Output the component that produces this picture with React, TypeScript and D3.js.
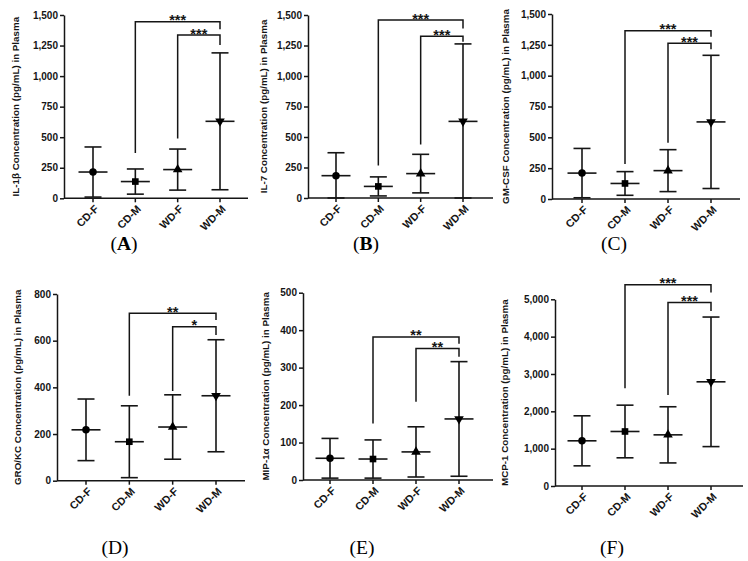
import React, { useEffect, useRef } from "react";
import * as d3 from "d3";

const groups = ["CD-F", "CD-M", "WD-F", "WD-M"];
const panelLetters = ["A", "B", "C", "D", "E", "F"];
const yTitles = [
  "IL-1β Concentration (pg/mL) in Plasma",
  "IL-7 Concentration (pg/mL) in Plasma",
  "GM-CSF Concentration (pg/mL) in Plasma",
  "GRO/KC Concentration (pg/mL) in Plasma",
  "MIP-1α Concentration (pg/mL) in Plasma",
  "MCP-1 Concentration (pg/mL) in Plasma",
];
const yMax = [1500, 1500, 1500, 800, 500, 5000];
const yStep = [250, 250, 250, 200, 100, 1000];

const il1bMean = [215, 137, 235, 630];
const il1bErr = [205, 103, 168, 560];
const il7Mean = [183, 95, 200, 628];
const il7Err = [188, 78, 158, 635];
const gmcsfMean = [210, 126, 230, 625];
const gmcsfErr = [200, 96, 170, 540];
const grokcMean = [218, 167, 230, 364];
const grokcErr = [132, 154, 138, 240];
const mip1aMean = [58, 56, 75, 163];
const mip1aErr = [53, 51, 67, 153];
const mcp1Mean = [1210, 1460, 1370, 2790];
const mcp1Err = [670, 705, 752, 1735];

const means = [il1bMean, il7Mean, gmcsfMean, grokcMean, mip1aMean, mcp1Mean];
const errs = [il1bErr, il7Err, gmcsfErr, grokcErr, mip1aErr, mcp1Err];

// significance brackets: outer CD-M vs WD-M, inner WD-F vs WD-M
const outerStars = ["***", "***", "***", "**", "**", "***"];
const innerStars = ["***", "***", "***", "*", "**", "***"];
const outerY = [1445, 1458, 1365, 717, 382, 5390];
const outerLeftEnd = [370, 267, 284, 364, 151, 2620];
const outerRightEnd = [1383, 1389, 1316, 689, 364, 5180];
const innerY = [1336, 1326, 1262, 660, 351, 4912];
const innerLeftEnd = [490, 439, 457, 384, 209, 2440];
const innerRightEnd = [1254, 1280, 1214, 624, 329, 4690];

const layouts = [
  { ax: 64, axEnd: 248, c0: 93, c3: 220, yTop: 15, y0: 198.3, tx: 15, lx: 124, ly: 243, bold: true },
  { ax: 308, axEnd: 493, c0: 336, c3: 463, yTop: 15, y0: 198, tx: 263, lx: 366, ly: 243, bold: true },
  { ax: 552, axEnd: 740, c0: 582, c3: 711, yTop: 14, y0: 199, tx: 505, lx: 614, ly: 243, bold: false },
  { ax: 57, axEnd: 245, c0: 86, c3: 216, yTop: 294, y0: 480.7, tx: 17, lx: 115, ly: 547, bold: false },
  { ax: 303, axEnd: 493, c0: 330, c3: 459, yTop: 292.7, y0: 480, tx: 265, lx: 362, ly: 547, bold: false },
  { ax: 555, axEnd: 743, c0: 582, c3: 711, yTop: 299.3, y0: 486, tx: 504, lx: 612, ly: 547, bold: false },
];

const FONT = "'Liberation Sans', Arial, sans-serif";
const INK = "#151515";

export default function App() {
  const ref = useRef<SVGSVGElement>(null);
  useEffect(() => {
    const svg = d3.select(ref.current);
    svg.selectAll("*").remove();
    svg.append("rect").attr("width", 748).attr("height", 561).attr("fill", "#fff");

    layouts.forEach((L, i) => {
      const g = svg.append("g");
      const y = d3.scaleLinear().domain([0, yMax[i]]).range([L.y0, L.yTop]);
      const x = d3.scalePoint<string>().domain(groups).range([L.c0, L.c3]);

      // y axis
      const ya = g
        .append("g")
        .attr("transform", `translate(${L.ax},0)`)
        .call(
          d3
            .axisLeft(y)
            .tickValues(d3.range(0, yMax[i] + 1, yStep[i]))
            .tickSize(4)
            .tickSizeOuter(0)
            .tickPadding(2)
            .tickFormat(d3.format(",") as any)
        );
      ya.selectAll("path,line").attr("stroke", INK).attr("stroke-width", 1.5);
      ya.selectAll("text")
        .attr("font-family", FONT)
        .attr("font-weight", "bold")
        .attr("font-size", 10)
        .attr("fill", INK);

      // x axis
      g.append("line")
        .attr("x1", L.ax)
        .attr("x2", L.axEnd)
        .attr("y1", L.y0)
        .attr("y2", L.y0)
        .attr("stroke", INK)
        .attr("stroke-width", 1.5);
      groups.forEach((gr) => {
        const cx = x(gr)!;
        g.append("line")
          .attr("x1", cx)
          .attr("x2", cx)
          .attr("y1", L.y0)
          .attr("y2", L.y0 + 4)
          .attr("stroke", INK)
          .attr("stroke-width", 1.5);
        g.append("text")
          .attr("transform", `translate(${cx + 3.5},${L.y0 + 8.5}) rotate(-45)`)
          .attr("text-anchor", "end")
          .attr("dominant-baseline", "central")
          .attr("font-family", FONT)
          .attr("font-weight", "bold")
          .attr("font-size", 10.8)
          .attr("fill", INK)
          .text(gr);
      });

      // y title
      g.append("text")
        .attr("transform", `translate(${L.tx},${(L.y0 + L.yTop) / 2}) rotate(-90)`)
        .attr("text-anchor", "middle")
        .attr("dominant-baseline", "central")
        .attr("font-family", FONT)
        .attr("font-weight", "bold")
        .attr("font-size", 9.8)
        .attr("fill", INK)
        .text(yTitles[i]);

      // error bars
      const symbols = [
        d3.symbol().type(d3.symbolCircle).size(44),
        d3.symbol().type(d3.symbolSquare).size(44),
        d3.symbol().type(d3.symbolTriangle).size(40),
        d3.symbol().type(d3.symbolTriangle).size(40),
      ];
      groups.forEach((gr, k) => {
        const cx = x(gr)!;
        const m = means[i][k];
        const e = errs[i][k];
        const lo = Math.max(0, m - e);
        const hi = m + e;
        g.append("line")
          .attr("x1", cx)
          .attr("x2", cx)
          .attr("y1", y(lo))
          .attr("y2", y(hi))
          .attr("stroke", INK)
          .attr("stroke-width", 1.6);
        [lo, hi].forEach((v) => {
          g.append("line")
            .attr("x1", cx - 8.5)
            .attr("x2", cx + 8.5)
            .attr("y1", y(v))
            .attr("y2", y(v))
            .attr("stroke", INK)
            .attr("stroke-width", 1.6);
        });
        g.append("line")
          .attr("x1", cx - 14.5)
          .attr("x2", cx + 14.5)
          .attr("y1", y(m))
          .attr("y2", y(m))
          .attr("stroke", INK)
          .attr("stroke-width", 1.6);
        g.append("path")
          .attr("d", symbols[k]()!)
          .attr("transform", `translate(${cx},${y(m)})${k === 3 ? " rotate(180)" : ""}`)
          .attr("fill", "#000");
      });

      // brackets
      const bx1 = x("CD-M")!;
      const bx2 = x("WD-F")!;
      const bx3 = x("WD-M")!;
      const drawBracket = (xa: number, xb: number, yl: number, la: number, rb: number, s: string) => {
        g.append("path")
          .attr("d", `M${xa},${y(la)}V${y(yl)}H${xb}V${y(rb)}`)
          .attr("fill", "none")
          .attr("stroke", INK)
          .attr("stroke-width", 1.5);
        g.append("text")
          .attr("x", (xa + xb) / 2)
          .attr("y", y(yl) + 3.5)
          .attr("text-anchor", "middle")
          .attr("font-family", FONT)
          .attr("font-weight", "bold")
          .attr("font-size", 14.5)
          .attr("fill", INK)
          .text(s);
      };
      drawBracket(bx1, bx3, outerY[i], outerLeftEnd[i], outerRightEnd[i], outerStars[i]);
      drawBracket(bx2, bx3, innerY[i], innerLeftEnd[i], innerRightEnd[i], innerStars[i]);

      // panel label
      const lab = g
        .append("text")
        .attr("x", L.lx)
        .attr("y", L.ly + 6.5)
        .attr("text-anchor", "middle")
        .attr("font-family", "'Liberation Serif', 'Times New Roman', serif")
        .attr("font-size", 19.5)
        .attr("fill", "#000");
      lab.append("tspan").text("(");
      lab.append("tspan").attr("font-weight", L.bold ? "bold" : "normal").text(panelLetters[i]);
      lab.append("tspan").text(")");
    });
  }, []);
  return (
    <svg
      ref={ref}
      width={748}
      height={561}
      style={{ position: "absolute", left: 0, top: 0, display: "block" }}
    />
  );
}
